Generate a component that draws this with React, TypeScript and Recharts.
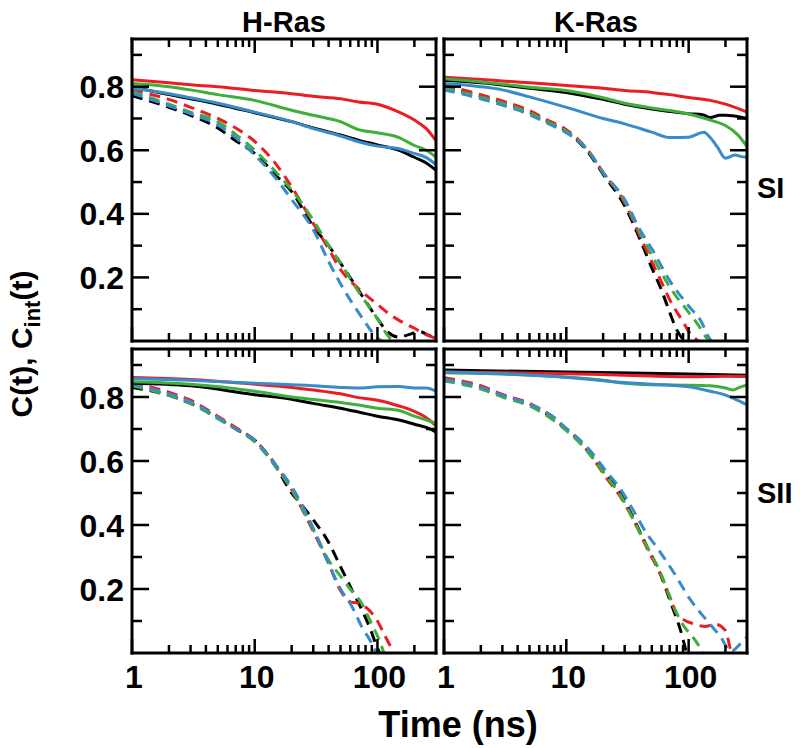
import { LineChart, Line, XAxis, YAxis } from "recharts";

type Pt = [number, number];

// time axis (ns, log) and C axis ticks
const X_TICKS = [1, 2, 3, 4, 5, 6, 7, 8, 9, 10, 20, 30, 40, 50, 60, 70, 80, 90, 100, 200];
const X_LABELS = [1, 10, 100];
const Y_TICKS = [0.1, 0.2, 0.3, 0.4, 0.5, 0.6, 0.7, 0.8, 0.9];
const Y_LABELS = [0.2, 0.4, 0.6, 0.8];

const BLACK = "#000000";
const RED = "#ec1c24";
const GREEN = "#3fae3a";
const BLUE = "#3a8bc9";

// H-Ras, switch I : C(t) solid, Cint(t) dashed
const hSI_black: Pt[] = [[1, 0.8], [2, 0.775], [3, 0.762], [5, 0.745], [10, 0.718], [20, 0.69], [30, 0.67], [50, 0.648], [70, 0.632], [100, 0.617], [150, 0.6], [200, 0.578], [250, 0.56], [300, 0.537]];
const hSI_red: Pt[] = [[1, 0.822], [2, 0.812], [3, 0.806], [5, 0.8], [10, 0.788], [20, 0.778], [30, 0.77], [50, 0.762], [70, 0.752], [100, 0.745], [150, 0.72], [200, 0.695], [250, 0.668], [300, 0.63]];
const hSI_green: Pt[] = [[1, 0.81], [2, 0.8], [3, 0.79], [5, 0.775], [10, 0.757], [20, 0.726], [30, 0.71], [50, 0.69], [70, 0.665], [100, 0.655], [150, 0.64], [200, 0.615], [250, 0.6], [300, 0.578]];
const hSI_blue: Pt[] = [[1, 0.795], [2, 0.778], [3, 0.765], [5, 0.748], [10, 0.72], [20, 0.69], [30, 0.668], [50, 0.645], [70, 0.627], [100, 0.613], [150, 0.605], [200, 0.59], [250, 0.577], [300, 0.555]];
const hSIi_black: Pt[] = [[1, 0.772], [2, 0.735], [3, 0.71], [5, 0.67], [7, 0.63], [10, 0.59], [15, 0.52], [20, 0.47], [30, 0.36], [40, 0.3], [50, 0.245], [70, 0.16], [100, 0.07], [120, 0.03], [150, 0.012], [180, 0.02], [220, 0.03], [260, 0.018], [300, 0.01]];
const hSIi_red: Pt[] = [[1, 0.79], [2, 0.76], [3, 0.735], [5, 0.7], [7, 0.67], [10, 0.628], [15, 0.555], [20, 0.485], [30, 0.37], [40, 0.29], [50, 0.225], [70, 0.165], [100, 0.115], [130, 0.08], [150, 0.065], [200, 0.04], [250, 0.02], [300, 0.008]];
const hSIi_green: Pt[] = [[1, 0.785], [2, 0.745], [3, 0.72], [5, 0.69], [7, 0.65], [10, 0.6], [15, 0.53], [20, 0.475], [30, 0.38], [40, 0.3], [50, 0.245], [70, 0.155], [100, 0.07], [120, 0.02], [140, -0.01]];
const hSIi_blue: Pt[] = [[1, 0.78], [2, 0.74], [3, 0.715], [5, 0.68], [7, 0.64], [10, 0.585], [15, 0.51], [20, 0.445], [30, 0.35], [40, 0.25], [50, 0.18], [70, 0.09], [100, 0.01], [120, -0.01]];

// K-Ras, switch I
const kSI_black: Pt[] = [[1, 0.82], [2, 0.812], [3, 0.805], [5, 0.795], [10, 0.782], [20, 0.76], [30, 0.745], [50, 0.73], [70, 0.722], [100, 0.715], [130, 0.712], [150, 0.703], [180, 0.71], [200, 0.71], [300, 0.7]];
const kSI_red: Pt[] = [[1, 0.83], [2, 0.823], [3, 0.818], [5, 0.812], [10, 0.804], [20, 0.795], [30, 0.788], [50, 0.782], [70, 0.775], [100, 0.766], [150, 0.757], [200, 0.745], [300, 0.72]];
const kSI_green: Pt[] = [[1, 0.825], [2, 0.815], [3, 0.808], [5, 0.798], [10, 0.788], [20, 0.765], [30, 0.748], [50, 0.733], [70, 0.725], [100, 0.714], [150, 0.695], [200, 0.678], [250, 0.65], [300, 0.612]];
const kSI_blue: Pt[] = [[1, 0.81], [2, 0.8], [3, 0.79], [5, 0.768], [10, 0.735], [20, 0.7], [30, 0.683], [50, 0.657], [70, 0.64], [100, 0.641], [133, 0.657], [150, 0.64], [172, 0.61], [200, 0.575], [240, 0.585], [270, 0.58], [300, 0.578]];
const kSIi_black: Pt[] = [[1, 0.8], [2, 0.77], [3, 0.75], [5, 0.72], [7, 0.69], [10, 0.66], [15, 0.595], [20, 0.525], [30, 0.425], [40, 0.32], [50, 0.23], [60, 0.16], [70, 0.09], [80, 0.035], [90, 0.005], [100, -0.01]];
const kSIi_red: Pt[] = [[1, 0.805], [2, 0.775], [3, 0.755], [5, 0.725], [7, 0.695], [10, 0.665], [15, 0.6], [20, 0.53], [30, 0.435], [40, 0.33], [50, 0.25], [60, 0.185], [70, 0.13], [90, 0.06], [100, 0.03], [120, 0.0], [130, -0.01]];
const kSIi_green: Pt[] = [[1, 0.795], [2, 0.768], [3, 0.748], [5, 0.718], [7, 0.69], [10, 0.66], [15, 0.6], [20, 0.53], [30, 0.44], [40, 0.34], [50, 0.27], [70, 0.17], [100, 0.09], [120, 0.05], [140, 0.01], [160, -0.01]];
const kSIi_blue: Pt[] = [[1, 0.79], [2, 0.762], [3, 0.742], [5, 0.712], [7, 0.685], [10, 0.655], [15, 0.6], [20, 0.53], [30, 0.445], [40, 0.35], [50, 0.29], [70, 0.19], [100, 0.11], [125, 0.065], [150, 0.005], [170, -0.01]];

// H-Ras, switch II
const hSII_black: Pt[] = [[1, 0.843], [3, 0.835], [10, 0.807], [20, 0.793], [30, 0.78], [50, 0.765], [70, 0.753], [100, 0.74], [150, 0.728], [200, 0.715], [250, 0.705], [300, 0.69]];
const hSII_red: Pt[] = [[1, 0.861], [3, 0.855], [10, 0.84], [20, 0.83], [30, 0.822], [50, 0.81], [70, 0.798], [100, 0.79], [150, 0.772], [200, 0.755], [250, 0.735], [300, 0.71]];
const hSII_green: Pt[] = [[1, 0.848], [3, 0.84], [10, 0.818], [20, 0.8], [30, 0.792], [50, 0.783], [70, 0.775], [100, 0.765], [150, 0.758], [200, 0.74], [250, 0.728], [300, 0.718]];
const hSII_blue: Pt[] = [[1, 0.858], [3, 0.852], [10, 0.843], [30, 0.835], [50, 0.83], [70, 0.828], [100, 0.832], [150, 0.833], [200, 0.828], [250, 0.828], [300, 0.818]];
const hSIIi_black: Pt[] = [[1, 0.83], [2, 0.805], [3, 0.78], [5, 0.735], [7, 0.7], [10, 0.665], [15, 0.58], [20, 0.5], [23.5, 0.468], [30, 0.416], [39, 0.353], [50, 0.27], [64, 0.186], [77, 0.124], [88, 0.072], [99, 0.02], [110, -0.02]];
const hSIIi_red: Pt[] = [[1, 0.845], [2, 0.815], [3, 0.79], [5, 0.74], [7, 0.705], [10, 0.665], [15, 0.585], [20, 0.51], [30, 0.38], [40, 0.28], [50, 0.195], [60, 0.16], [70, 0.155], [82, 0.14], [100, 0.1], [113, 0.06], [128, 0.02], [140, -0.01]];
const hSIIi_green: Pt[] = [[1, 0.835], [2, 0.805], [3, 0.78], [5, 0.732], [7, 0.7], [10, 0.66], [15, 0.58], [20, 0.51], [30, 0.385], [40, 0.29], [50, 0.24], [60, 0.2], [73, 0.16], [90, 0.09], [106, 0.03], [115, -0.01]];
const hSIIi_blue: Pt[] = [[1, 0.84], [2, 0.81], [3, 0.785], [5, 0.737], [7, 0.7], [10, 0.665], [15, 0.585], [20, 0.52], [30, 0.39], [40, 0.28], [50, 0.2], [62, 0.145], [75, 0.08], [90, 0.03], [100, -0.01]];

// K-Ras, switch II
const kSII_black: Pt[] = [[1, 0.884], [10, 0.878], [100, 0.872], [300, 0.868]];
const kSII_red: Pt[] = [[1, 0.878], [10, 0.873], [30, 0.868], [100, 0.863], [200, 0.865], [300, 0.864]];
const kSII_green: Pt[] = [[1, 0.876], [3, 0.872], [10, 0.862], [20, 0.852], [30, 0.843], [50, 0.838], [100, 0.837], [150, 0.835], [200, 0.828], [230, 0.822], [260, 0.83], [300, 0.838]];
const kSII_blue: Pt[] = [[1, 0.878], [10, 0.862], [30, 0.845], [50, 0.84], [100, 0.832], [150, 0.818], [200, 0.806], [250, 0.79], [300, 0.775]];
const kSIIi_black: Pt[] = [[1, 0.857], [2, 0.832], [3, 0.806], [5, 0.778], [8, 0.73], [10, 0.7], [13, 0.66], [16, 0.62], [21, 0.558], [28, 0.495], [36, 0.415], [46, 0.33], [59, 0.245], [71, 0.16], [86, 0.07], [97, 0.0], [105, -0.02]];
const kSIIi_red: Pt[] = [[1, 0.86], [2, 0.835], [3, 0.808], [5, 0.78], [8, 0.733], [10, 0.7], [13, 0.66], [16, 0.615], [21, 0.55], [28, 0.485], [36, 0.41], [46, 0.325], [59, 0.245], [71, 0.17], [79, 0.125], [90, 0.105], [113, 0.09], [136, 0.083], [165, 0.09], [200, 0.07], [221, 0.01], [240, -0.01]];
const kSIIi_green: Pt[] = [[1, 0.85], [2, 0.825], [3, 0.8], [5, 0.772], [8, 0.725], [10, 0.695], [13, 0.655], [16, 0.615], [21, 0.555], [28, 0.49], [36, 0.41], [46, 0.33], [59, 0.25], [71, 0.17], [86, 0.1], [113, 0.04], [135, -0.005]];
const kSIIi_blue: Pt[] = [[1, 0.855], [2, 0.83], [3, 0.805], [5, 0.778], [8, 0.735], [10, 0.702], [13, 0.665], [16, 0.628], [21, 0.57], [28, 0.51], [36, 0.44], [46, 0.37], [55, 0.33], [76, 0.25], [104, 0.165], [142, 0.1], [183, 0.05], [221, 0.005], [267, 0.03], [300, 0.05]];

const FONT = "'Liberation Sans', Arial, Helvetica, sans-serif";

type Series = { pts: Pt[]; color: string; dashed?: boolean };

const set = (c: Pt[][], i: Pt[][]): Series[] => [
  ...i.map((pts, k) => ({ pts, color: [BLACK, RED, GREEN, BLUE][k], dashed: true })),
  ...c.map((pts, k) => ({ pts, color: [BLACK, RED, GREEN, BLUE][k] })),
];

const panels = [
  { id: "hSI", x: 132, y: 39, w: 304, h: 302, showX: false, showY: true,
    series: set([hSI_black, hSI_red, hSI_green, hSI_blue], [hSIi_black, hSIi_red, hSIi_green, hSIi_blue]) },
  { id: "kSI", x: 444, y: 39, w: 303, h: 302, showX: false, showY: false,
    series: set([kSI_black, kSI_red, kSI_green, kSI_blue], [kSIi_black, kSIi_red, kSIi_green, kSIi_blue]) },
  { id: "hSII", x: 132, y: 349, w: 304, h: 304, showX: true, showY: true,
    series: set([hSII_black, hSII_red, hSII_green, hSII_blue], [hSIIi_black, hSIIi_red, hSIIi_green, hSIIi_blue]) },
  { id: "kSII", x: 444, y: 349, w: 303, h: 304, showX: true, showY: false,
    series: set([kSII_black, kSII_red, kSII_green, kSII_blue], [kSIIi_black, kSIIi_red, kSIIi_green, kSIIi_blue]) },
];

const frame = { stroke: "#000", strokeWidth: 3, strokeLinecap: "square" as const };

// inward tick marks; labels only on outer edges
const xTick = (side: "top" | "bottom", label: boolean) => (p: any) => {
  const v = p.payload.value;
  const major = X_LABELS.includes(v);
  const dir = side === "bottom" ? -1 : 1;
  return (
    <g>
      <line x1={p.x} y1={p.y} x2={p.x} y2={p.y + dir * (major ? 14 : 8)} stroke="#000" strokeWidth={2.5} />
      {label && major && (
        <text x={p.x + 2} y={p.y + 35} textAnchor="middle" fontFamily={FONT} fontWeight={700} fontSize={32} fill="#000">
          {v}
        </text>
      )}
    </g>
  );
};

const yTick = (side: "left" | "right", label: boolean) => (p: any) => {
  const v = p.payload.value;
  const major = Y_LABELS.some((l) => Math.abs(l - v) < 1e-6);
  const dir = side === "left" ? 1 : -1;
  return (
    <g>
      <line x1={p.x} y1={p.y} x2={p.x + dir * (major ? 17 : 10)} y2={p.y} stroke="#000" strokeWidth={2.5} />
      {label && major && (
        <text x={p.x - 8} y={p.y + 11.5} textAnchor="end" fontFamily={FONT} fontWeight={700} fontSize={32} fill="#000">
          {v.toFixed(1)}
        </text>
      )}
    </g>
  );
};

const M = 70;

function Panel({ x, y, w, h, showX, showY, series }: (typeof panels)[number]) {
  // axes are 1px thick so they render; margins shrink by the same amount
  const xProps = {
    type: "number" as const, scale: "log" as const, domain: [1, 300], allowDataOverflow: true,
    ticks: X_TICKS, interval: 0, height: 1, tickSize: 0, tickMargin: 0, tickLine: false, axisLine: frame,
  };
  const yProps = {
    type: "number" as const, domain: [0, 0.95], allowDataOverflow: true,
    ticks: Y_TICKS, interval: 0, width: 1, tickSize: 0, tickMargin: 0, tickLine: false, axisLine: frame,
  };
  return (
    <div style={{ position: "absolute", left: x - M, top: y - M }}>
      <LineChart width={w + 2 * M} height={h + 2 * M} margin={{ top: M - 1, right: M - 1, bottom: M - 1, left: M - 1 }}>
        <XAxis xAxisId="b" dataKey="t" orientation="bottom" {...xProps} tick={xTick("bottom", showX)} />
        <XAxis xAxisId="t" dataKey="t" orientation="top" {...xProps} tick={xTick("top", false)} />
        <YAxis yAxisId="l" orientation="left" {...yProps} tick={yTick("left", showY)} />
        <YAxis yAxisId="r" orientation="right" {...yProps} tick={yTick("right", false)} />
        {series.map((s, i) => (
          <Line
            key={i}
            xAxisId="b"
            yAxisId="l"
            data={s.pts.map(([t, v]) => ({ t, v }))}
            dataKey="v"
            type="monotone"
            stroke={s.color}
            strokeWidth={3}
            strokeDasharray={s.dashed ? "11 7" : undefined}
            dot={false}
            activeDot={false}
            isAnimationActive={false}
          />
        ))}
      </LineChart>
    </div>
  );
}

export default function App() {
  const txt = { fontFamily: FONT, fontWeight: 700, fill: "#000" };
  return (
    <div style={{ position: "absolute", left: 0, top: 0, width: 800, height: 748, background: "#fff" }}>
      <svg width={800} height={748} style={{ position: "absolute", left: 0, top: 0 }}>
        <text x={284} y={32} textAnchor="middle" fontSize={29} {...txt}>H-Ras</text>
        <text x={596} y={32} textAnchor="middle" fontSize={29} {...txt}>K-Ras</text>
        <text x={757} y={198} fontSize={29} {...txt}>SI</text>
        <text x={757} y={503} fontSize={29} {...txt}>SII</text>
        <text x={458} y={737} textAnchor="middle" fontSize={36} {...txt}>Time (ns)</text>
        <text transform="translate(32,344) rotate(-90)" textAnchor="middle" fontSize={30} {...txt}>
          C(t), C<tspan dy={8} fontSize={22}>int</tspan>
          <tspan dy={-8}>(t)</tspan>
        </text>
      </svg>
      {panels.map((p) => (
        <Panel key={p.id} {...p} />
      ))}
    </div>
  );
}
